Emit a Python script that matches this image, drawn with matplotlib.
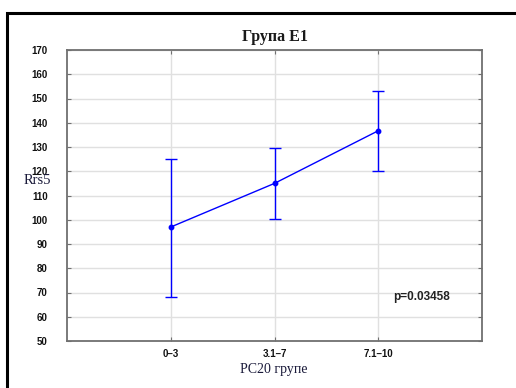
import matplotlib
matplotlib.use("Agg")
import matplotlib.pyplot as plt
from matplotlib.patches import Rectangle

categories = ["0\u20133", "3.1\u20137", "7.1\u201310"]
means = [97.0, 115.0, 136.7]
upper = [125.0, 129.5, 153.2]
lower = [68.2, 100.2, 120.1]
yticks = list(range(50, 171, 10))
title = "Група E1"
xlabel = "PC20 групе"
ylabel = "Rrs5"
ptext = "p=0.03458"

fig = plt.figure(figsize=(5.16, 3.88), dpi=100)
ax = fig.add_axes([67/516, 1-341/388, (482-67)/516, (341-50)/388])

x = [1, 2, 3]
yerr = [[m - l for m, l in zip(means, lower)], [u - m for m, u in zip(means, upper)]]
ax.errorbar(x, means, yerr=yerr, color="#0000ff", lw=1, marker="o", ms=3.2,
            capsize=4.5, elinewidth=1, capthick=1, zorder=3)

ax.set_xlim(0, 4)
ax.set_ylim(50, 170)
ax.set_xticks(x)
ax.set_xticklabels(categories)
ax.set_yticks(yticks)
ax.grid(True, color="#e0e0e0", lw=1)
ax.set_axisbelow(True)
for s in ax.spines.values():
    s.set_color("#707070")
    s.set_linewidth(1.3)
ax.tick_params(direction="in", length=3, color="#707070", top=True, right=True,
               labelsize=7, pad=5)
for lab in ax.get_xticklabels() + ax.get_yticklabels():
    lab.set_fontfamily("Liberation Sans")
    lab.set_fontweight("bold")
    lab.set_color("#111111")
ax.tick_params(axis="x", pad=6)
ax.tick_params(axis="y", pad=14)

ax.text(3.14, 68.1, ptext, fontsize=8.5, fontweight="bold", family="Liberation Sans",
        color="#222222", va="center", ha="left")

fig.text(275/516, 1-37/388, title, ha="center", va="center", fontsize=11.5,
         fontweight="bold", family="Liberation Serif", color="#1a1a1a")
fig.text(274/516, 1-370/388, xlabel, ha="center", va="center", fontsize=10,
         family="Liberation Serif", color="#1a1a3a")
fig.text(37/516, 1-181/388, ylabel, ha="center", va="center", fontsize=10.5,
         family="Liberation Serif", color="#1a1a3a")

fig.add_artist(Rectangle((7/516, -0.1), 1.2, 1 - 13/388 + 0.1, transform=fig.transFigure,
                         fill=False, edgecolor="black", lw=2.2))

fig.savefig("out.png", dpi=100)
